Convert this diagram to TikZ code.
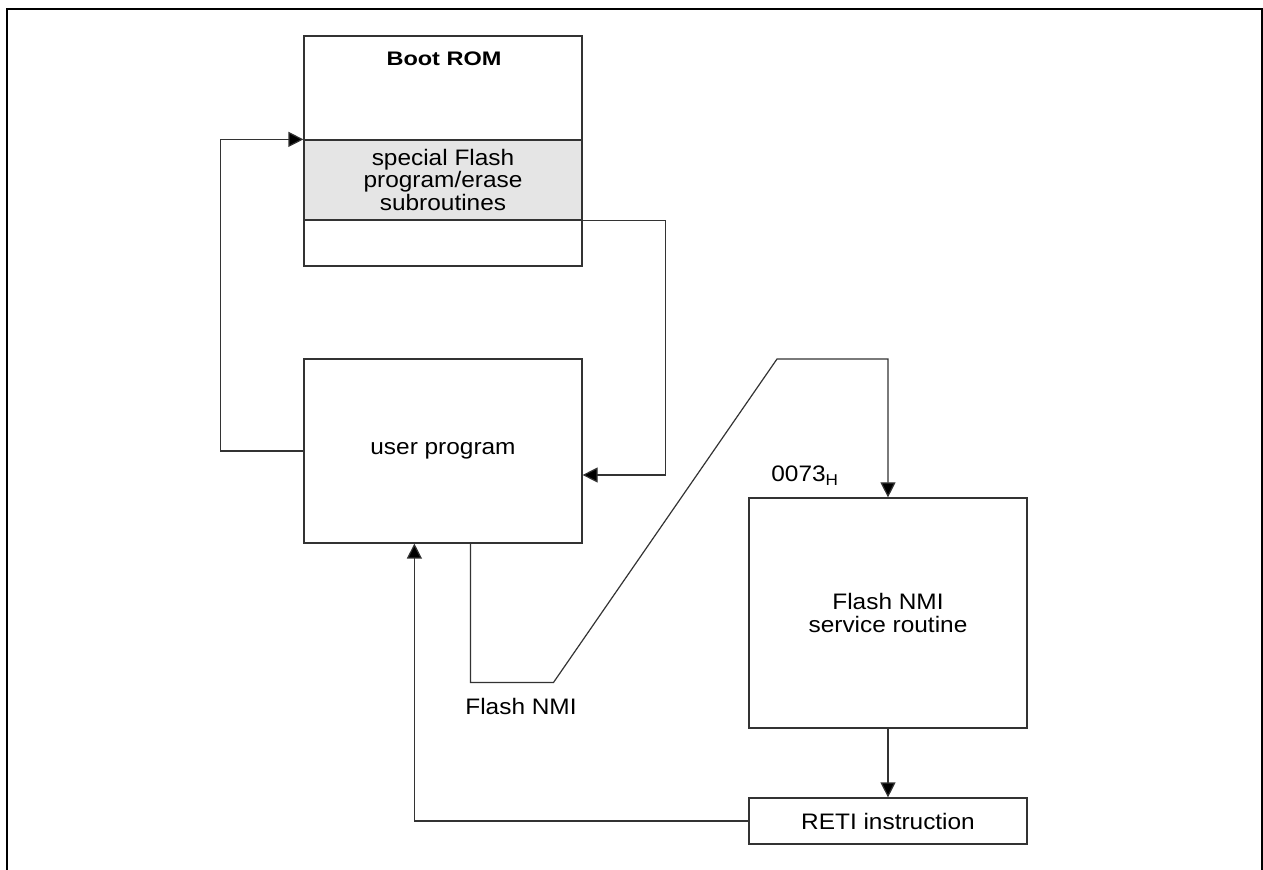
\documentclass[tikz,border=0pt]{standalone}
\usepackage{fontspec}
\setmainfont[FakeStretch=1.09]{Liberation Sans}
\newfontfamily\bootfont[FakeStretch=1.2]{Liberation Sans}
\usetikzlibrary{arrows.meta,calc}
\tikzset{
  box/.style={draw=black!80, line width=0.6pt, inner sep=0pt, minimum width=139pt, align=center,
    font=\fontsize{11.2}{11.2}\selectfont},
  arr/.style={draw=black!80, line width=0.6pt, -{Triangle[length=7.5pt,width=7.5pt,fill=black]}},
  lbl/.style={inner sep=0pt, font=\fontsize{11.2}{12}\selectfont},
  frame/.style={draw=black, line width=1pt}
}
\begin{document}
\begin{tikzpicture}[x=0.5pt,y=-0.5pt]
\useasboundingbox (0,0) rectangle (1263,870);
\draw[frame] (7,870) -- (7,9) -- (1261.5,9) -- (1261.5,870);
% boxes
\node[box, minimum height=115pt] (boot) at (443,151) {};
\node[box, minimum height=40pt, fill=black!10] (band) at (443,180) {special Flash\\program/erase\\subroutines};
\node[lbl, font=\fontsize{9.8}{10}\bootfont\bfseries] (bootlbl) at (444,59) {Boot ROM};
\node[box, minimum height=92pt] (up) at (443,451) {user program};
\node[box, minimum height=115pt] (nmi) at (888,613) {Flash NMI\\service routine};
\node[box, minimum height=23pt] (reti) at (888,821) {RETI instruction};
% labels
\node[lbl, anchor=base west] (addr) at (771,482) {0073\textsubscript{H}};
\node[lbl, anchor=west] (fnmi) at (465,706) {Flash NMI};
\coordinate (kink) at (777,359);
% connectors
\draw[arr] (up.west) -- ++(-83,0) |- (band.north west);
\draw[arr] (band.south east) -- ++(83,0) |- ($(up.east)+(0,24)$);
\draw[arr] ($(up.south west)+(167,0)$) -- ++(0,139) -- ++(83,0) -- (kink) -| (nmi.north);
\draw[arr] (nmi.south) -- (reti.north);
\draw[arr] (reti.west) -| ($(up.south west)+(111,0)$);
\end{tikzpicture}
\end{document}
